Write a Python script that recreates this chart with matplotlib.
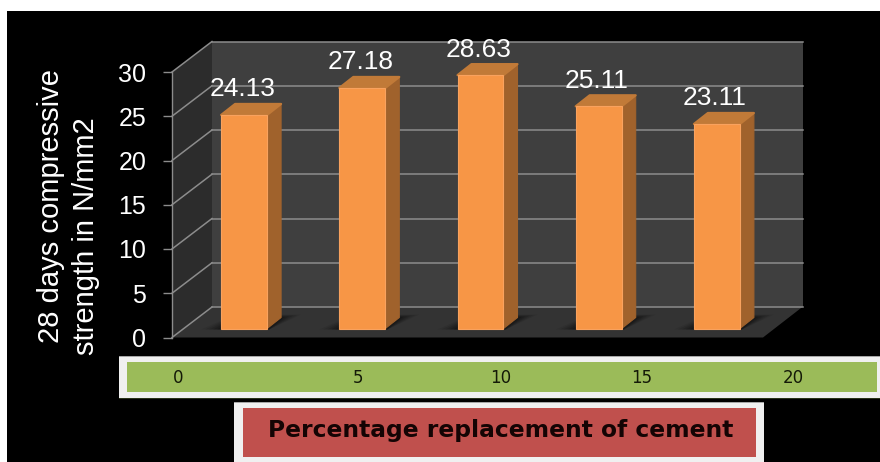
#!/bin/env python3
import numpy as np
import matplotlib
matplotlib.use('Agg')
import matplotlib.pyplot as plt
from matplotlib.patches import Polygon, Rectangle
from matplotlib.transforms import Affine2D

replacement = ['0', '5', '10', '15', '20']
strength = [24.13, 27.18, 28.63, 25.11, 23.11]
yticks = [0, 5, 10, 15, 20, 25, 30]

W, H = 880, 462
DPI = 100

plt.rcParams['font.family'] = ['Liberation Sans', 'DejaVu Sans']

fig = plt.figure(figsize=(W / DPI, H / DPI), dpi=DPI, facecolor='white')

# pixel canvas for the frame, walls and the two banners
bg = fig.add_axes([0, 0, 1, 1])
bg.set_xlim(0, W)
bg.set_ylim(H, 0)
bg.axis('off')

bg.add_patch(Rectangle((7, 11), W - 7, H - 11, fc='black', ec='none'))

# back wall, left wall, floor
bg.add_patch(Polygon([(212, 42), (803, 42), (803, 306.5), (212, 306.5)], fc='#3f3f3f', ec='none'))
bg.add_patch(Polygon([(172, 72), (212, 42), (212, 306.5), (172, 337.5)], fc='#2c2c2c', ec='none'))
bg.add_patch(Polygon([(172, 337.5), (212, 306.5), (803, 306.5), (763, 337.5)], fc='#333333', ec='none'))

# green band
bg.add_patch(Rectangle((119, 397), W - 119, 2, fc='#2a331a', ec='none'))
bg.add_patch(Rectangle((119, 355.5), W - 119, 42, fc='#f0f0f0', ec='none'))
bg.add_patch(Rectangle((119, 355.5), W - 119, 1.5, fc='#a6a6a6', ec='none'))
bg.add_patch(Rectangle((127, 361.5), 750, 30, fc='#9bbb59', ec='none'))
for lab, xp in zip(replacement, [178, 358, 501, 642, 793]):
  bg.text(xp, 378, lab, ha='center', va='center', fontsize=12, color='#141a08', family='DejaVu Sans')

# red band
bg.add_patch(Rectangle((234, 401.5), 530, 60.5, fc='#f0f0f0', ec='none'))
bg.add_patch(Rectangle((234, 401.5), 530, 1.5, fc='#a6a6a6', ec='none'))
bg.add_patch(Rectangle((243, 408), 513, 48.5, fc='#c0504d', ec='none'))
bg.text(501, 431, 'Percentage replacement of cement', ha='center', va='center',
  fontsize=16.8, fontweight='bold', color='#140404', family='DejaVu Sans')

# rotated axis title, two separately placed lines
bg.text(51, 206, '28 days compressive', rotation=90, ha='center', va='center', fontsize=21, color='white')
bg.text(86, 236.5, 'strength in N/mm2', rotation=90, ha='center', va='center', fontsize=21, color='white')

# front plane of the box: values and categories live here
ax = fig.add_axes([172 / W, 1 - 337.5 / H, 591 / W, 265.5 / H])
ax.patch.set_alpha(0)
ax.set_xlim(-0.5, 4.5)
ax.set_ylim(0, 30)
for s in ['top', 'right', 'bottom']:
  ax.spines[s].set_visible(False)
ax.spines['left'].set_color('#8c8c8c')
ax.spines['left'].set_linewidth(1.0)
ax.set_xticks([])
ax.set_yticks(yticks)
ax.tick_params(axis='y', length=6.5, width=1.0, color='#8c8c8c', pad=12, labelsize=18, labelcolor='white')

px = 72 / DPI
back = ax.transData + Affine2D().translate(40, 30.5)
plane = ax.transData + Affine2D().translate(13, 9)

# gridlines on the back wall and the matching diagonals on the left wall
x0, x1 = ax.get_xlim()
for v in yticks:
  ax.plot([x0, x1], [v, v], transform=back, color='#8c8c8c', lw=1.1, clip_on=False, zorder=1)
  p0 = ax.transData.transform((x0, v))
  p1 = back.transform((x0, v))
  ax.plot([p0[0], p1[0]], [p0[1], p1[1]], transform=None, color='#8c8c8c', lw=1.1, clip_on=False, zorder=1)

xs = np.arange(len(strength))
BAR_W = 0.389
DX, DY = 14, 11

for x, v in zip(xs, strength):
  bl = plane.transform((x - BAR_W / 2, 0))
  br = plane.transform((x + BAR_W / 2, 0))
  tl = plane.transform((x - BAR_W / 2, v))
  tr = plane.transform((x + BAR_W / 2, v))

  # soft shadow cast on the floor behind and right of the bar
  for grow, alpha in zip([20, 16, 12, 8, 4], [0.08, 0.10, 0.12, 0.14, 0.16]):
    ax.add_patch(Polygon([(bl[0] - grow, bl[1] - 1), (br[0] + 2, br[1] - 1),
      (br[0] + DX + grow, br[1] + DY + grow * 0.15), (bl[0] + DX, br[1] + DY + grow * 0.15)],
      transform=None, fc='black', ec='none', alpha=alpha, zorder=2, clip_on=False))

  # side and top faces
  ax.add_patch(Polygon([br, tr, tr + (DX, DY), br + (DX, DY)], transform=None,
    fc='#a0622c', ec='#a0622c', lw=0.8, joinstyle='round', zorder=3, clip_on=False))
  ax.add_patch(Polygon([tl, tr, tr + (DX, DY), tl + (DX, DY)], transform=None,
    fc='#c17a38', ec='#c17a38', lw=1.6, joinstyle='round', zorder=3, clip_on=False))

ax.bar(xs, strength, width=BAR_W, color='#f79646', edgecolor='#f9a25e', linewidth=0.8,
  transform=plane, zorder=4, clip_on=False)

# value labels sit a fixed distance above each bar
for x, v in zip(xs, strength):
  ax.annotate('%.2f' % v, xy=(x, v), xycoords=plane, xytext=(-2 * px, 25.5 * px),
    textcoords='offset points', ha='center', va='center', fontsize=19, color='white', zorder=5)

fig.savefig('out.png', dpi=DPI, facecolor='white')
